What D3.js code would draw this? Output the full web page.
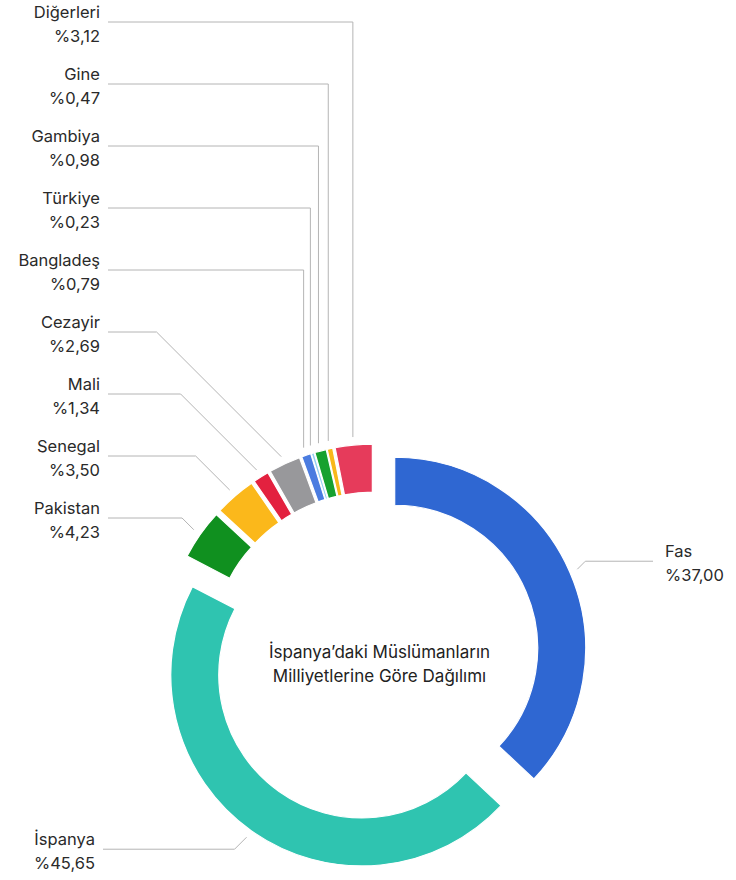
<!DOCTYPE html>
<html>
<head>
<meta charset="utf-8">
<script src="https://cdn.jsdelivr.net/npm/d3@7"></script>
<style>
  body { margin: 0; background: #fff; }
  svg { display: block; font-family: Inter, "Noto Sans", sans-serif; }
</style>
</head>
<body>
<div id="chart"></div>
<script>
// data
const categories = ["Fas", "İspanya", "Pakistan", "Senegal", "Mali", "Cezayir", "Bangladeş", "Türkiye", "Gambiya", "Gine", "Diğerleri"];
const values = [37.00, 45.65, 4.23, 3.50, 1.34, 2.69, 0.79, 0.23, 0.98, 0.47, 3.12];
const colors = ["#2f67d2", "#2fc4b0", "#10901f", "#fbb81b", "#e3213f", "#98989b", "#4b7ce0", "#93cff2", "#17a12f", "#f8b81a", "#e63b5b"];
const title = ["İspanya’daki Müslümanların", "Milliyetlerine Göre Dağılımı"];

const width = 736,
    height = 880,
    cx = 374.5,
    cy = 657,
    innerRadius = 143,
    outerRadius = 191,
    explode = 22,
    anchorRadius = outerRadius + 8;

const fmt = v => "%" + d3.format(".2f")(v).replace(".", ",");

const data = categories.map((name, i) => ({ name, value: values[i], color: colors[i] }));

const arcs = d3.pie().sort(null).value(d => d.value)(data);
const arc = d3.arc().innerRadius(innerRadius).outerRadius(outerRadius);

const svg = d3.select("#chart")
    .append("svg")
    .attr("width", width)
    .attr("height", height)
    .attr("viewBox", [0, 0, width, height]);

// every slice is pulled out a bit along its middle angle
const mid = d => (d.startAngle + d.endAngle) / 2;
const offset = d => [explode * Math.sin(mid(d)), -explode * Math.cos(mid(d))];

const g = svg.append("g").attr("transform", `translate(${cx},${cy})`);

g.selectAll("path")
    .data(arcs)
    .join("path")
    .attr("transform", d => `translate(${offset(d)})`)
    .attr("fill", d => d.data.color)
    .attr("stroke", "white")
    .attr("stroke-width", 1.2)
    .attr("d", arc);

// centre title
svg.append("g")
    .attr("font-size", 17)
    .attr("fill", "#222")
    .attr("text-anchor", "middle")
    .selectAll("text")
    .data(title)
    .join("text")
    .attr("x", cx + 5)
    .attr("y", (d, i) => 658 + i * 24)
    .text(d => d);

// labels: small slices stacked in a column on the left, top to bottom
const leftNames = ["Diğerleri", "Gine", "Gambiya", "Türkiye", "Bangladeş", "Cezayir", "Mali", "Senegal", "Pakistan"];
const rowY = d3.scalePoint().domain(leftNames).range([22, 518]);

const anchorOf = d => {
    const [ox, oy] = offset(d);
    return [cx + ox + anchorRadius * Math.sin(mid(d)), cy + oy - anchorRadius * Math.cos(mid(d))];
};

const labels = arcs.map(d => {
    const [ax, ay] = anchorOf(d);
    let side = "left", y, x0;
    if (d.data.name === "Fas") {
        side = "right"; y = ay - 8; x0 = 653;
    } else if (d.data.name === "İspanya") {
        y = ay + 12; x0 = 103;
    } else {
        y = rowY(d.data.name); x0 = 108;
    }
    // 45 degree elbow, or straight up when that would run into the text
    let ex = side === "right" ? ax + Math.abs(ay - y) : ax - Math.abs(ay - y);
    if (side === "left" && ex < 140) ex = ax;
    return { d, ax, ay, ex, y, x0, side };
});

const lines = svg.append("g")
    .attr("fill", "none")
    .attr("stroke", "#b4b4b4")
    .attr("stroke-width", 1);

lines.selectAll("path")
    .data(labels)
    .join("path")
    .attr("d", l => `M${l.ax},${l.ay}L${l.ex},${l.y}L${l.x0},${l.y}`);

const txt = svg.append("g")
    .attr("font-size", 16.5)
    .attr("fill", "#2a2a2a")
    .selectAll("text")
    .data(labels)
    .join("text")
    .attr("text-anchor", l => l.side === "right" ? "start" : "end")
    .attr("x", l => l.side === "right" ? 665 : l.x0 - 8);

txt.append("tspan")
    .attr("y", l => l.y - 4)
    .text(l => l.d.data.name);

txt.append("tspan")
    .attr("x", l => l.side === "right" ? 665 : l.x0 - 8)
    .attr("y", l => l.y + 20)
    .text(l => fmt(l.d.data.value));
</script>
</body>
</html>
